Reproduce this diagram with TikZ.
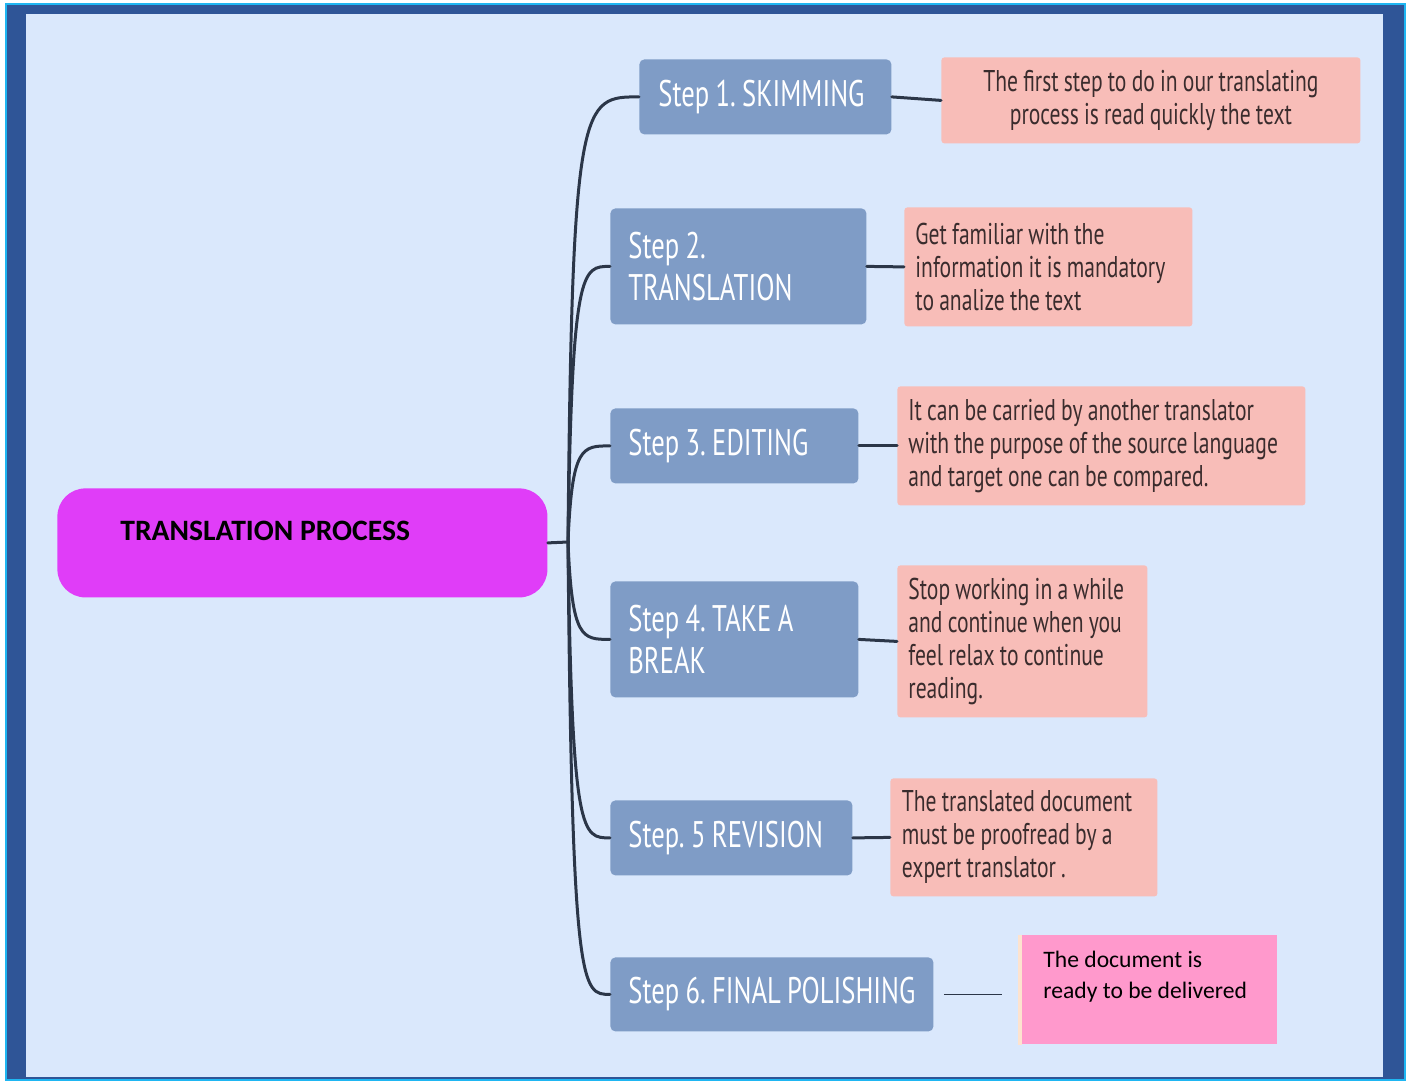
\documentclass[tikz,border=0pt]{standalone}
\usepackage{fontspec}
\setmainfont{Carlito}
\newfontfamily\stepfont[FakeStretch=0.72,WordSpace=0.9]{PT Sans}
\usepackage{xcolor}
\usetikzlibrary{calc}
\frenchspacing

\definecolor{framecol}{HTML}{2F5597}
\definecolor{rimcol}{HTML}{1FB6F2}
\definecolor{paper}{HTML}{DAE8FC}
\definecolor{rootcol}{HTML}{E03DF8}
\definecolor{stepcol}{HTML}{7F9CC6}
\definecolor{desccol}{HTML}{F8BDB8}
\definecolor{desctext}{HTML}{3A2C2D}
\definecolor{lastcol}{HTML}{FF99CC}
\definecolor{stripcol}{HTML}{FDE3CF}
\definecolor{linecol}{HTML}{2B3648}

\begin{document}
\begin{tikzpicture}[x=0.5pt,y=-0.5pt,
  stepbox/.style={anchor=north west,fill=stepcol,rounded corners=2.5pt,text=white,
    font=\stepfont\fontsize{18.5}{21}\selectfont,align=flush left,inner xsep=9pt},
  descbox/.style={anchor=north west,fill=desccol,rounded corners=1.5pt,text=desctext,
    font=\stepfont\fontsize{15}{16.5}\selectfont,align=flush left,inner xsep=5.5pt},
  branch/.style={line width=1.5pt,draw=linecol,line cap=round}]

% Frame
\useasboundingbox (0,0) rectangle (1411,1080);
\fill[white] (0,0) rectangle (1411,1080);
\fill[framecol,draw=rimcol,line width=0.6pt] (6,4) rectangle (1405,1080);
\fill[paper] (26,14) rectangle (1383,1077);

% Root
\node[anchor=north west,fill=rootcol,rounded corners=14pt,minimum width=245pt,minimum height=54.5pt,
  inner xsep=31.5pt,text width=182pt,align=flush left,text depth=12pt,
  font=\fontsize{14.8}{16}\selectfont\bfseries] (root) at (57,488) {TRANSLATION PROCESS};
\coordinate (trunk) at (568,542);

% Steps
\node[stepbox,minimum width=126pt,minimum height=37.5pt,text width=107pt,inner xsep=9.5pt] (s1) at (639,59) {Step 1. SKIMMING};
\node[stepbox,minimum width=128pt,minimum height=58pt,text width=110pt] (s2) at (610,208) {Step 2.\\TRANSLATION};
\node[stepbox,minimum width=124pt,minimum height=37.5pt,text width=106pt] (s3) at (610,408) {Step 3. EDITING};
\node[stepbox,minimum width=124pt,minimum height=58pt,text width=106pt] (s4) at (610,581) {Step 4. TAKE A\\BREAK};
\node[stepbox,minimum width=121pt,minimum height=37.5pt,text width=103pt] (s5) at (610,800) {Step. 5 REVISION};
\node[stepbox,minimum width=161.5pt,minimum height=37pt,text width=143.5pt] (s6) at (610,957) {Step 6. FINAL POLISHING};

% Descriptions
\node[descbox,minimum width=209.5pt,minimum height=43pt,text width=201.5pt,inner xsep=4pt,align=flush center] (d1) at (941,57)
  {The first step to do in our translating\\process is read quickly the text};
\node[descbox,minimum width=144pt,minimum height=59.5pt,text width=133pt] (d2) at (904,207)
  {Get familiar with the\\information it is mandatory\\to analize the text};
\node[descbox,minimum width=204pt,minimum height=59.5pt,text width=193pt] (d3) at (897,386)
  {It can be carried by another translator\\with the purpose of the source language\\and target one can be compared.};
\node[descbox,minimum width=125pt,minimum height=76pt,text width=114pt] (d4) at (897,565)
  {Stop working in a while\\and continue when you\\feel relax to continue\\reading.};
\node[descbox,minimum width=133.5pt,minimum height=59pt,text width=122pt,inner xsep=5.75pt] (d5) at (890,778)
  {The translated document\\must be proofread by a\\expert translator .};
\node[anchor=north west,fill=lastcol,minimum width=129.5pt,minimum height=54.5pt,inner xsep=12.5pt,
  text width=104.5pt,align=flush left,font=\fontsize{11.8}{15.5}\selectfont] (d6) at (1018,935)
  {The document is\\ready to be delivered\\\mbox{}};
\fill[stripcol] (d6.north west) rectangle ($(d6.south west)+(4,0)$);

% Branches
\draw[branch] (root.east) -- (trunk);
\foreach \s in {s1,s2,s3,s4,s5,s6}
  \draw[branch] (trunk) .. controls ($(trunk |- \s.west)+(4,0)$) and ($(trunk |- \s.west)+(14,0)$) .. (\s.west);
\foreach \n in {1,...,5}
  \draw[branch] (s\n.east) -- (d\n.west);
\draw[linecol,line width=0.7pt,shorten <=5pt,shorten >=8pt] (s6.east) -- (s6.east -| d6.west);

\end{tikzpicture}
\end{document}
